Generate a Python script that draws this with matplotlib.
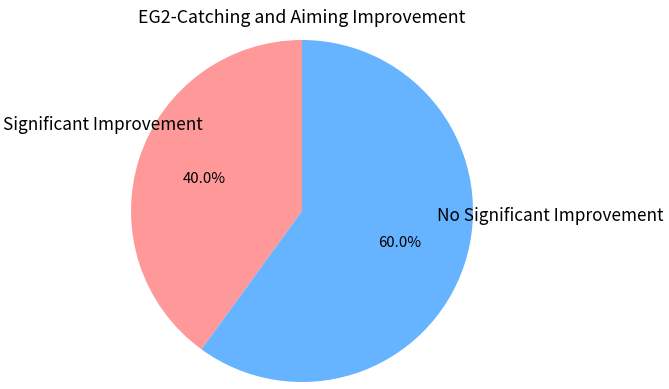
import matplotlib.pyplot as plt

plt.rcParams['font.family'] = ['Noto Sans CJK SC', 'DejaVu Sans']

labels = ['Significant Improvement', 'No Significant Improvement']
sizes = [40, 60]
colors = ['#ff9999', '#66b3ff']
title = 'EG2-Catching and Aiming Improvement'

fig = plt.figure(figsize=(6.69, 3.89), dpi=100)
ax = fig.add_axes([131 / 669, 7 / 389, 342 / 669, 342 / 389])

wedges, texts, autotexts = ax.pie(sizes, labels=labels, colors=colors,
                                  autopct='%1.1f%%', startangle=90,
                                  pctdistance=0.6,
                                  textprops={'fontsize': 12.4})
ax.set_xlim(-1, 1)
ax.set_ylim(-1, 1)
ax.set_aspect('equal')

# move the labels where they sit in the original
texts[0].set_position((-0.58, 0.50))
texts[0].set_ha('right')
texts[0].set_va('center')
texts[1].set_position((0.79, -0.03))
texts[1].set_ha('left')
texts[1].set_va('center')
for t in autotexts:
    t.set_fontsize(10.8)

ax.set_title(title, fontsize=12.8, pad=12)

fig.savefig('out.png', dpi=100)
